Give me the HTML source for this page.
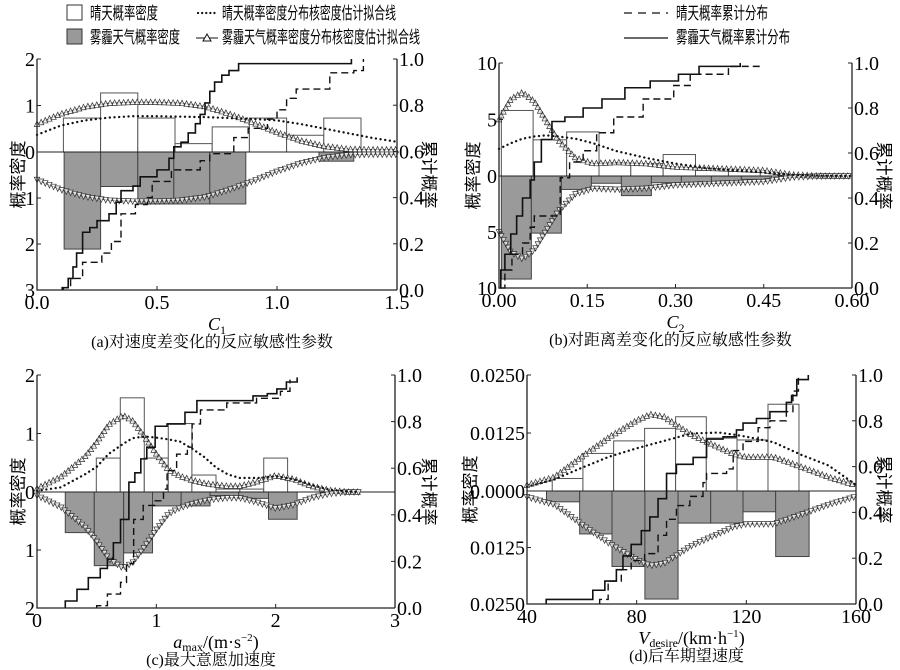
<!DOCTYPE html>
<html><head><meta charset="utf-8"><style>
body{margin:0;background:#fff}
svg{display:block}
</style></head><body>
<svg id="chart" width="900" height="670" viewBox="0 0 900 670" xmlns="http://www.w3.org/2000/svg" font-family="'Liberation Serif','Noto Serif CJK SC',serif">
<g id="legend" font-family="'Liberation Sans','Noto Sans CJK SC',sans-serif">
 <g><rect x="67" y="5" width="15" height="15" fill="#fff" stroke="#333"/><text x="90" y="19" font-size="17" textLength="68" lengthAdjust="spacingAndGlyphs">晴天概率密度</text></g>
 <g><rect x="67" y="29" width="15" height="15" fill="#999" stroke="#333"/><text x="90" y="43" font-size="17" textLength="90" lengthAdjust="spacingAndGlyphs">雾霾天气概率密度</text></g>
 <g><line x1="198" y1="13" x2="218" y2="13" stroke="#111" stroke-width="2.2" stroke-dasharray="0.1 4" stroke-linecap="round"/><text x="222" y="19" font-size="17" textLength="174" lengthAdjust="spacingAndGlyphs">晴天概率密度分布核密度估计拟合线</text></g>
 <g><line x1="196" y1="38" x2="218" y2="38" stroke="#111"/><path d="M203,41 L207,34 L211,41 Z" fill="#fff" stroke="#111"/><text x="222" y="43" font-size="17" textLength="198" lengthAdjust="spacingAndGlyphs">雾霾天气概率密度分布核密度估计拟合线</text></g>
 <g><line x1="624" y1="13" x2="668" y2="13" stroke="#111" stroke-width="1.3" stroke-dasharray="8 6"/><text x="676" y="19" font-size="17" textLength="92" lengthAdjust="spacingAndGlyphs">晴天概率累计分布</text></g>
 <g><line x1="624" y1="38" x2="668" y2="38" stroke="#111" stroke-width="1.3"/><text x="676" y="43" font-size="17" textLength="114" lengthAdjust="spacingAndGlyphs">雾霾天气概率累计分布</text></g>
</g>
</svg>
<script>
// ---------- Panel (a) data ----------
const aSunStart=[0.11,0.265,0.42,0.575,0.73,0.885,1.04,1.195];
const aSunEnd=[0.265,0.42,0.575,0.73,0.885,1.04,1.195,1.35];
const aSunH=[0.73,1.27,0.73,0.18,0.54,0.73,0.36,0.73];
const aHazeStart=[0.113,0.265,0.42,0.57,0.72,1.175];
const aHazeEnd=[0.265,0.42,0.57,0.72,0.87,1.32];
const aHazeH=[2.11,0.75,1.13,1.13,1.13,0.2];
const aKdeX=[0,0.1,0.2,0.3,0.4,0.5,0.6,0.7,0.8,0.9,1.0,1.1,1.2,1.3,1.4,1.5];
const aSunKde=[0.37,0.57,0.68,0.74,0.77,0.77,0.76,0.75,0.73,0.71,0.68,0.6,0.5,0.4,0.3,0.22];
const aHazeKde=[0.6,0.82,0.97,1.05,1.07,1.07,1.05,0.98,0.82,0.63,0.42,0.24,0.12,0.06,0.05,0.05];
const aHazeCdfX=[0.105,0.13,0.15,0.165,0.19,0.22,0.25,0.3,0.33,0.35,0.4,0.43,0.5,0.55,0.57,0.6,0.63,0.66,0.68,0.7,0.72,0.74,0.77,0.8,0.84,1.31];
const aHazeCdfY=[0.01,0.05,0.1,0.16,0.25,0.27,0.3,0.33,0.38,0.43,0.45,0.49,0.52,0.57,0.62,0.64,0.68,0.72,0.76,0.81,0.86,0.9,0.93,0.95,0.98,1.0];
const aSunCdfX=[0.11,0.14,0.19,0.27,0.31,0.35,0.41,0.46,0.48,0.56,0.68,0.72,0.82,0.88,0.96,1.0,1.04,1.08,1.22,1.32,1.36];
const aSunCdfY=[0.01,0.05,0.12,0.16,0.21,0.33,0.37,0.4,0.47,0.52,0.56,0.59,0.66,0.7,0.74,0.78,0.83,0.87,0.94,0.95,1.0];
const aXTicks=[0,0.5,1.0,1.5], aXLabels=["0.0","0.5","1.0","1.5"];
const aUpTicks=[0,1,2], aUpLabels=["0","1","2"];
const aDnTicks=[1,2,3], aDnLabels=["1","2","3"];
// ---------- Panel (b) data ----------
const bSunStart=[0.004,0.058,0.115,0.17,0.224,0.279,0.334,0.39];
const bSunEnd=[0.058,0.115,0.17,0.224,0.279,0.334,0.39,0.444];
const bSunH=[5.8,3.2,3.9,1.1,1.1,1.9,0.5,0.4];
const bHazeStart=[0.004,0.055,0.106,0.157,0.208,0.259,0.31,0.361,0.412];
const bHazeEnd=[0.055,0.106,0.157,0.208,0.259,0.31,0.361,0.412,0.463];
const bHazeH=[9.2,5.1,1.2,0.65,1.75,0.6,0.6,0.5,0.3];
const bKdeX=[0,0.02,0.04,0.06,0.08,0.1,0.13,0.16,0.2,0.25,0.3,0.35,0.4,0.45,0.5,0.55,0.6];
const bSunKde=[2.4,2.9,3.3,3.5,3.6,3.5,3.3,2.9,2.2,1.6,1.1,0.7,0.5,0.3,0.1,0.03,0];
const bHazeKde=[5.0,6.8,7.4,6.6,4.9,3.2,1.6,1.1,1.2,1.1,0.8,0.7,0.6,0.5,0.1,0,0];
const bHazeCdfX=[0.0,0.003,0.01,0.02,0.03,0.04,0.053,0.06,0.072,0.09,0.112,0.143,0.175,0.214,0.257,0.305,0.34,0.41];
const bHazeCdfY=[0.0,0.08,0.15,0.24,0.32,0.4,0.48,0.56,0.66,0.74,0.76,0.8,0.84,0.89,0.92,0.95,0.985,1.0];
const bSunCdfX=[0.004,0.01,0.022,0.04,0.053,0.06,0.08,0.104,0.12,0.143,0.166,0.195,0.245,0.297,0.325,0.39,0.444];
const bSunCdfY=[0.0,0.08,0.15,0.2,0.27,0.32,0.32,0.49,0.56,0.61,0.69,0.76,0.84,0.9,0.95,0.985,1.0];
const bXTicks=[0,0.15,0.3,0.45,0.6], bXLabels=["0.00","0.15","0.30","0.45","0.60"];
const bUpTicks=[0,5,10], bUpLabels=["0","5","10"];
const bDnTicks=[5,10], bDnLabels=["5","10"];
// ---------- Panel (c) data ----------
const cSunStart=[0.497,0.698,0.899,1.1,1.298,1.5,1.7,1.9];
const cSunEnd=[0.698,0.899,1.1,1.298,1.5,1.7,1.9,2.1];
const cSunH=[0.58,1.61,0.58,1.17,0.29,0.05,0.05,0.58];
const cHazeStart=[0.237,0.48,0.726,0.968,1.208,1.45,1.69,1.94];
const cHazeEnd=[0.48,0.726,0.968,1.208,1.45,1.69,1.94,2.18];
const cHazeH=[0.7,1.27,1.05,0.24,0.24,0.06,0.11,0.47];
const cKdeX=[0,0.2,0.4,0.5,0.6,0.72,0.8,0.9,1.0,1.1,1.2,1.3,1.4,1.5,1.6,1.7,1.85,2.0,2.15,2.3,2.45,2.6,2.7];
const cSunKde=[0.02,0.08,0.3,0.43,0.65,0.82,0.92,0.95,0.93,0.9,0.86,0.74,0.6,0.42,0.3,0.24,0.24,0.27,0.22,0.12,0.04,0.01,0];
const cHazeKde=[0.06,0.26,0.6,0.85,1.15,1.31,1.22,0.95,0.65,0.38,0.27,0.2,0.15,0.12,0.1,0.1,0.18,0.28,0.22,0.1,0.03,0,0];
const cHazeCdfX=[0.237,0.335,0.43,0.53,0.59,0.64,0.7,0.77,0.82,0.87,0.92,0.99,1.09,1.24,1.34,1.48,1.81,1.93,2.01,2.09,2.18];
const cHazeCdfY=[0.03,0.08,0.13,0.17,0.21,0.28,0.38,0.54,0.58,0.64,0.69,0.78,0.79,0.84,0.89,0.89,0.91,0.92,0.94,0.97,0.99];
const cSunCdfX=[0.5,0.59,0.7,0.75,0.81,0.89,0.99,1.06,1.09,1.17,1.26,1.3,1.37,1.59,1.84,2.04,2.12];
const cSunCdfY=[0.01,0.06,0.11,0.19,0.38,0.44,0.46,0.51,0.59,0.66,0.69,0.79,0.85,0.88,0.9,0.93,0.98];
const cXTicks=[0,1,2,3], cXLabels=["0","1","2","3"];
const cUpTicks=[0,1,2], cUpLabels=["0","1","2"];
const cDnTicks=[1,2], cDnLabels=["1","2"];
// ---------- Panel (d) data ----------
const dSunStart=[49.2,60.4,71.6,82.9,94.2,105.4,116.6,127.9];
const dSunEnd=[60.4,71.6,82.9,94.2,105.4,116.6,127.9,139.2];
const dSunH=[0.0027,0.0081,0.0108,0.0135,0.016,0.0114,0.011,0.0187];
const dHazeStart=[47.1,59.2,71,83,95.1,107,118.8,130.7];
const dHazeEnd=[59.2,71,83,95.1,107,118.8,130.7,142.9];
const dHazeH=[0.0024,0.0095,0.0167,0.0239,0.0071,0.0071,0.0046,0.0145];
const dKdeX=[40,50,60,70,80,85,90,100,110,115,120,130,140,150,160];
const dSunKde=[0.0009,0.0025,0.005,0.0074,0.0092,0.01,0.0108,0.0124,0.0126,0.0122,0.0117,0.0105,0.0078,0.0055,0.0013];
const dHazeKde=[0.0013,0.003,0.0074,0.0116,0.0152,0.0165,0.016,0.0121,0.0094,0.008,0.0073,0.0073,0.0052,0.003,0.0012];
const dHazeCdfX=[47,64,68.4,72.6,75,78,81.7,84.8,87.8,90.9,94.5,100.6,105.5,111.5,116.4,118.8,123.7,128.6,134.6,136.5,138.4,142.6];
const dHazeCdfY=[0.02,0.06,0.1,0.15,0.21,0.26,0.32,0.38,0.46,0.57,0.61,0.64,0.72,0.73,0.76,0.79,0.81,0.84,0.88,0.91,0.98,1.0];
const dSunCdfX=[66.5,69.6,74.4,78,82.9,87.8,90.9,94.5,99.4,104.2,105.5,112.8,115.2,118.8,124.3,128.6,134.6,137,139];
const dSunCdfY=[0.02,0.1,0.15,0.19,0.22,0.3,0.37,0.43,0.47,0.53,0.57,0.59,0.67,0.71,0.77,0.8,0.84,0.93,1.0];
const dXTicks=[40,80,120,160], dXLabels=["40","80","120","160"];
const dUpTicks=[0,0.0125,0.025], dUpLabels=["0.0000","0.0125","0.0250"];
const dDnTicks=[0.0125,0.025], dDnLabels=["0.0125","0.0250"];
const rTicks=[0,0.2,0.4,0.6,0.8,1.0], rLabels=["0.0","0.2","0.4","0.6","0.8","1.0"];

const NS="http://www.w3.org/2000/svg";
const svg=document.getElementById('chart');
const SERIF="'Liberation Serif','Noto Serif CJK SC',serif";
const SANS="'Liberation Sans','Noto Sans CJK SC',sans-serif";
function mk(tag,attrs,parent){const e=document.createElementNS(NS,tag);for(const k in attrs)e.setAttribute(k,attrs[k]);(parent||svg).appendChild(e);return e;}

function panel(id,geo,d){
  const g=mk('g',{});
  
  
  const {L,R,T,B,Z,x0,x1,upMax,dnMax}=geo;
  const sx=v=>L+(v-x0)/(x1-x0)*(R-L);
  const su=v=>Z-v/upMax*(Z-T);
  const sd=v=>Z+v/dnMax*(B-Z);
  const sr=v=>B-v*(B-T);
  d.sunStart.forEach((s,i)=>{
    const r=mk('rect',{x:sx(s),y:su(d.sunH[i]),width:sx(d.sunEnd[i])-sx(s),height:Z-su(d.sunH[i]),fill:'#fff',stroke:'#555','stroke-width':1},g);
    
    
  });
  d.hazeStart.forEach((s,i)=>{
    const r=mk('rect',{x:sx(s),y:Z,width:sx(d.hazeEnd[i])-sx(s),height:sd(d.hazeH[i])-Z,fill:'#9a9a9a',stroke:'#444','stroke-width':1},g);
    
    
  });
  const zl=mk('line',{x1:L,y1:Z,x2:R,y2:Z,stroke:'#222','stroke-width':1},g);
  
  
  const upPts=d.kdeX.map((x,i)=>sx(x)+','+su(d.hazeKde[i])).join(' ');
  const dnPts=d.kdeX.map((x,i)=>sx(x)+','+sd(d.hazeKde[i])).join(' ');
  [[upPts,1,'haze-kde-upper'],[dnPts,-1,'haze-kde-lower']].forEach(([pts,dir,nm])=>{
    const pl=mk('polyline',{points:pts,fill:'none',stroke:'#333','stroke-width':1},g);
    
    
    const len=pl.getTotalLength();
    let p='';
    for(let s=0;s<=len;s+=4.5){const q=pl.getPointAtLength(s);const h=3.1*dir;p+=`M${q.x-2.7},${q.y+h/1.3} L${q.x},${q.y-h} L${q.x+2.7},${q.y+h/1.3} Z `;}
    const m=mk('path',{d:p,fill:'#fff','fill-opacity':0.75,stroke:'#333','stroke-width':0.7},g);
    
    
  });
  const sk=mk('polyline',{points:d.kdeX.map((x,i)=>sx(x)+','+su(d.sunKde[i])).join(' '),fill:'none',stroke:'#111','stroke-width':2.3,'stroke-dasharray':'0.1 4.6','stroke-linecap':'round'},g);
  
  
  function step(xs,ys){let p=`M${sx(xs[0])},${sr(0)} L${sx(xs[0])},${sr(ys[0])}`;for(let i=1;i<xs.length;i++){p+=` L${sx(xs[i])},${sr(ys[i-1])} L${sx(xs[i])},${sr(ys[i])}`;}return p;}
  const hc=mk('path',{d:step(d.hazeCdfX,d.hazeCdfY),fill:'none',stroke:'#111','stroke-width':1.6},g);
  
  
  const sc=mk('path',{d:step(d.sunCdfX,d.sunCdfY),fill:'none',stroke:'#111','stroke-width':1.4,'stroke-dasharray':'7 4'},g);
  
  
  const ax=mk('path',{d:`M${L},${T} L${L},${B} L${R},${B} M${R},${T} L${R},${B}`,fill:'none',stroke:'#222','stroke-width':1.3},g);
  
  
  d.xTicks.forEach((v,i)=>{
    mk('line',{x1:sx(v),y1:B,x2:sx(v),y2:B-4,stroke:'#222'},g);
    const t=mk('text',{x:sx(v),y:B+19,'font-size':20,'text-anchor':'middle','font-family':SERIF},g);t.textContent=d.xLabels[i];
    
    
  });
  d.upTicks.forEach((v,i)=>{
    mk('line',{x1:L,y1:su(v),x2:L+4,y2:su(v),stroke:'#222'},g);
    const t=mk('text',{x:L-2,y:su(v)+7,'font-size':20,'text-anchor':'end','font-family':SERIF},g);t.textContent=d.upLabels[i];
    
    
  });
  d.dnTicks.forEach((v,i)=>{
    mk('line',{x1:L,y1:sd(v),x2:L+4,y2:sd(v),stroke:'#222'},g);
    const t=mk('text',{x:L-2,y:sd(v)+7,'font-size':20,'text-anchor':'end','font-family':SERIF},g);t.textContent=d.dnLabels[i];
    
    
  });
  rTicks.forEach((v,i)=>{
    mk('line',{x1:R,y1:sr(v),x2:R-4,y2:sr(v),stroke:'#222'},g);
    const t=mk('text',{x:R+2,y:sr(v)+7,'font-size':20,'font-family':SERIF},g);t.textContent=rLabels[i];
    
    
  });
  const yl=mk('text',{'font-size':17,'text-anchor':'middle','font-family':SANS,transform:`translate(${geo.ylx},${(T+B)/2}) rotate(-90)`},g);yl.textContent='概率密度';
  
  
  const yr=mk('text',{'font-size':17,'text-anchor':'middle','font-family':SANS,transform:`translate(${geo.yrx},${(T+B)/2}) rotate(90)`},g);yr.textContent='累计概率';
  
  
  const xt=mk('text',{x:(L+R)/2,y:B+40,'font-size':18,'text-anchor':'middle','font-family':SERIF},g);xt.innerHTML=geo.xtitle;
  
  
  const cap=mk('text',{x:(L+R)/2-5,y:B+57,'font-size':16,'text-anchor':'middle','font-family':SERIF},g);cap.textContent=geo.caption;
  
  
}
panel('a',{L:37,R:397,T:59,B:290,Z:152,x0:0,x1:1.5,upMax:2,dnMax:3,ylx:24,yrx:423,
  xtitle:'<tspan font-style="italic">C</tspan><tspan font-size="12" dy="4">1</tspan>',caption:'(a)对速度差变化的反应敏感性参数'},
  {sunStart:aSunStart,sunEnd:aSunEnd,sunH:aSunH,hazeStart:aHazeStart,hazeEnd:aHazeEnd,hazeH:aHazeH,kdeX:aKdeX,sunKde:aSunKde,hazeKde:aHazeKde,hazeCdfX:aHazeCdfX,hazeCdfY:aHazeCdfY,sunCdfX:aSunCdfX,sunCdfY:aSunCdfY,xTicks:aXTicks,xLabels:aXLabels,upTicks:aUpTicks,upLabels:aUpLabels,dnTicks:aDnTicks,dnLabels:aDnLabels});
panel('b',{L:499,R:852,T:63,B:288,Z:176,x0:0,x1:0.6,upMax:10,dnMax:10,ylx:479,yrx:878,
  xtitle:'<tspan font-style="italic">C</tspan><tspan font-size="12" dy="4">2</tspan>',caption:'(b)对距离差变化的反应敏感性参数'},
  {sunStart:bSunStart,sunEnd:bSunEnd,sunH:bSunH,hazeStart:bHazeStart,hazeEnd:bHazeEnd,hazeH:bHazeH,kdeX:bKdeX,sunKde:bSunKde,hazeKde:bHazeKde,hazeCdfX:bHazeCdfX,hazeCdfY:bHazeCdfY,sunCdfX:bSunCdfX,sunCdfY:bSunCdfY,xTicks:bXTicks,xLabels:bXLabels,upTicks:bUpTicks,upLabels:bUpLabels,dnTicks:bDnTicks,dnLabels:bDnLabels});
panel('c',{L:37,R:395,T:375,B:608,Z:492,x0:0,x1:3,upMax:2,dnMax:2,ylx:24,yrx:423,
  xtitle:'<tspan font-style="italic">a</tspan><tspan font-size="12" dy="3">max</tspan><tspan dy="-3">/(m·s</tspan><tspan font-size="11" dy="-7">−2</tspan><tspan dy="7">)</tspan>',caption:'(c)最大意愿加速度'},
  {sunStart:cSunStart,sunEnd:cSunEnd,sunH:cSunH,hazeStart:cHazeStart,hazeEnd:cHazeEnd,hazeH:cHazeH,kdeX:cKdeX,sunKde:cSunKde,hazeKde:cHazeKde,hazeCdfX:cHazeCdfX,hazeCdfY:cHazeCdfY,sunCdfX:cSunCdfX,sunCdfY:cSunCdfY,xTicks:cXTicks,xLabels:cXLabels,upTicks:cUpTicks,upLabels:cUpLabels,dnTicks:cDnTicks,dnLabels:cDnLabels});
panel('d',{L:527,R:856,T:375,B:604,Z:491,x0:40,x1:160,upMax:0.025,dnMax:0.025,ylx:476,yrx:878,
  xtitle:'<tspan font-style="italic">V</tspan><tspan font-size="12" dy="3">desire</tspan><tspan dy="-3">/(km·h</tspan><tspan font-size="11" dy="-7">−1</tspan><tspan dy="7">)</tspan>',caption:'(d)后车期望速度'},
  {sunStart:dSunStart,sunEnd:dSunEnd,sunH:dSunH,hazeStart:dHazeStart,hazeEnd:dHazeEnd,hazeH:dHazeH,kdeX:dKdeX,sunKde:dSunKde,hazeKde:dHazeKde,hazeCdfX:dHazeCdfX,hazeCdfY:dHazeCdfY,sunCdfX:dSunCdfX,sunCdfY:dSunCdfY,xTicks:dXTicks,xLabels:dXLabels,upTicks:dUpTicks,upLabels:dUpLabels,dnTicks:dDnTicks,dnLabels:dDnLabels});
</script>
</body></html>
